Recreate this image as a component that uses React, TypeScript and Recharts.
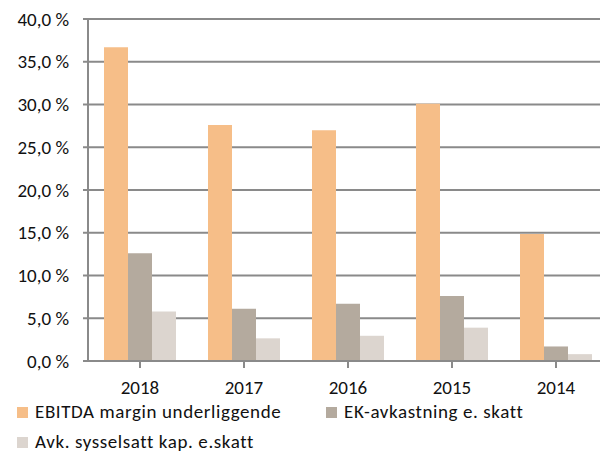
import React from "react";
import { BarChart, Bar, XAxis, YAxis, CartesianGrid } from "recharts";

const categories = ["2018", "2017", "2016", "2015", "2014"];
const ebitda = [36.7, 27.6, 27.0, 30.1, 14.85];
const ekAvkastning = [12.6, 6.1, 6.7, 7.6, 1.7];
const avkSysselsatt = [5.8, 2.65, 2.95, 3.9, 0.8];
const yTicks = [0, 5, 10, 15, 20, 25, 30, 35, 40];

const seriesNames = [
  "EBITDA margin underliggende",
  "EK-avkastning e. skatt",
  "Avk. sysselsatt kap. e.skatt",
];
const seriesColors = ["#F6BE88", "#B4AA9E", "#DCD5CF"];

const data = categories.map((c, i) => ({
  year: c,
  ebitda: ebitda[i],
  ek: ekAvkastning[i],
  avk: avkSysselsatt[i],
}));

const FONT = "Carlito, 'Liberation Sans', Arial, sans-serif";
const GRID = "#8A8A8A";
const TEXT = "#111";

const fmt = (v: number) => v.toFixed(1).replace(".", ",") + " %";

const legendPos = [
  { left: 17, top: 402 },
  { left: 326, top: 402 },
  { left: 17, top: 432 },
];

export default function App() {
  return (
    <div
      style={{
        position: "absolute",
        left: 0,
        top: 0,
        width: 600,
        height: 454,
        overflow: "hidden",
        background: "#fff",
        fontFamily: FONT,
      }}
    >
      <BarChart
        width={620}
        height={454}
        data={data}
        margin={{ top: 19, right: 12, bottom: 63, left: 0 }}
        barGap={0}
        barSize={24}
      >
        <CartesianGrid vertical={false} stroke={GRID} strokeWidth={2} />
        <XAxis
          dataKey="year"
          height={30}
          axisLine={{ stroke: GRID, strokeWidth: 2 }}
          tickLine={{ stroke: GRID, strokeWidth: 2 }}
          tickSize={7}
          tickMargin={13}
          tick={{ fill: TEXT, fontSize: 19, fontFamily: FONT }}
        />
        <YAxis
          width={88}
          domain={[0, 40]}
          ticks={yTicks}
          interval={0}
          tickFormatter={fmt}
          axisLine={{ stroke: GRID, strokeWidth: 2 }}
          tickLine={{ stroke: GRID, strokeWidth: 2 }}
          tickSize={5}
          tickMargin={14}
          tick={{ fill: TEXT, fontSize: 19, fontFamily: FONT }}
        />
        <Bar dataKey="ebitda" fill={seriesColors[0]} isAnimationActive={false} />
        <Bar dataKey="ek" fill={seriesColors[1]} isAnimationActive={false} />
        <Bar dataKey="avk" fill={seriesColors[2]} isAnimationActive={false} />
      </BarChart>
      {seriesNames.map((name, i) => (
        <div
          key={name}
          style={{
            position: "absolute",
            left: legendPos[i].left,
            top: legendPos[i].top,
            display: "flex",
            alignItems: "center",
            fontSize: 19,
            letterSpacing: 0.6,
            color: TEXT,
            whiteSpace: "nowrap",
            lineHeight: "20px",
          }}
        >
          <span
            style={{
              display: "inline-block",
              width: 11,
              height: 11,
              background: seriesColors[i],
              marginRight: 7,
            }}
          />
          {name}
        </div>
      ))}
    </div>
  );
}
